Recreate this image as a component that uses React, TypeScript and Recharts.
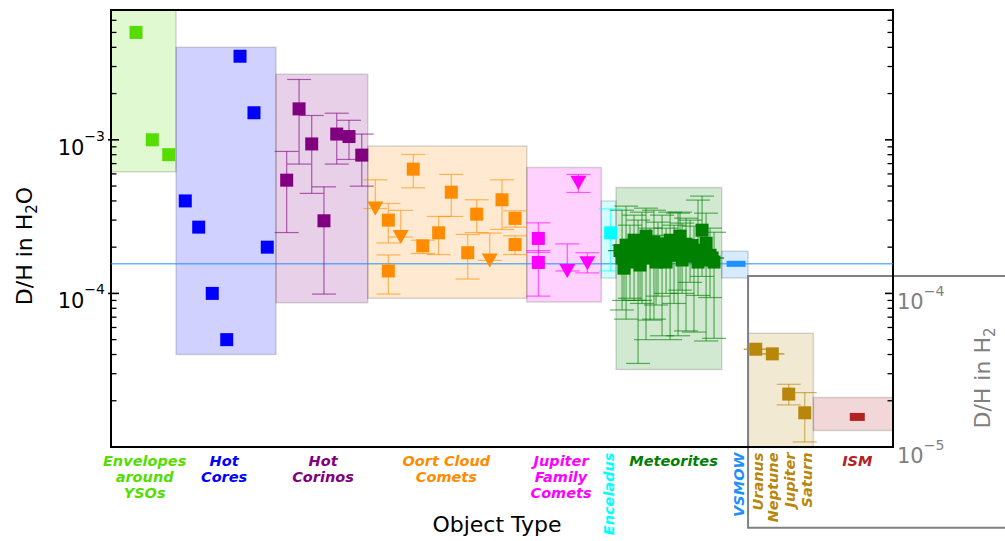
import React from "react";
import {
  ComposedChart,
  Scatter,
  XAxis,
  YAxis,
  ErrorBar,
  ReferenceArea,
  ReferenceLine,
} from "recharts";

const FONT = "DejaVu Sans, sans-serif";
const Y_DOMAIN: [number, number] = [1e-5, 7e-3];
const X_DOMAIN: [number, number] = [0, 60];

// rows: [x position, D/H, lower bound, upper bound]
type Row = [number, number, number?, number?];

const envelopes: Row[] = [
  [1.92, 5.0e-3],
  [3.17, 1.0e-3],
  [4.43, 8.0e-4],
];

const hotCores: Row[] = [
  [5.7, 4.0e-4],
  [6.73, 2.7e-4],
  [7.77, 1.0e-4],
  [8.88, 5.0e-5],
  [9.9, 3.5e-3],
  [10.97, 1.5e-3],
  [11.99, 2.0e-4],
];

const hotCorinos: Row[] = [
  [13.48, 5.46e-4, 2.49e-4, 8.4e-4],
  [14.43, 1.59e-3, 6.95e-4, 2.47e-3],
  [15.4, 9.4e-4, 4.48e-4, 1.44e-3],
  [16.34, 2.97e-4, 9.9e-5, 4.94e-4],
  [17.32, 1.09e-3, 6.95e-4, 1.49e-3],
  [18.26, 1.05e-3, 7.45e-4, 1.34e-3],
  [19.24, 7.95e-4, 4.99e-4, 1.09e-3],
];

const oortComets: Row[] = [
  [21.28, 3.0e-4, 2.13e-4, 3.85e-4],
  [21.28, 1.4e-4, 9.9e-5, 1.78e-4],
  [23.19, 6.44e-4, 4.87e-4, 8.03e-4],
  [23.92, 2.04e-4, 1.82e-4, 2.22e-4],
  [25.14, 2.48e-4, 1.79e-4, 3.17e-4],
  [26.11, 4.56e-4, 3.17e-4, 5.95e-4],
  [27.37, 1.84e-4, 1.24e-4, 2.42e-4],
  [28.06, 3.28e-4, 2.49e-4, 4.07e-4],
  [30.0, 4.07e-4, 2.61e-4, 5.49e-4],
  [31.0, 3.08e-4, 2.7e-4, 3.45e-4],
  [31.0, 2.08e-4, 1.79e-4, 2.37e-4],
];

// upper limits, drawn as down triangles
const oortLimits: Row[] = [
  [20.28, 3.57e-4, 3.57e-4, 5.49e-4],
  [22.23, 2.33e-4, 2.33e-4, 3.47e-4],
  [29.06, 1.64e-4, 1.64e-4, 2.47e-4],
];

const jfcComets: Row[] = [
  [32.79, 2.28e-4, 1.85e-4, 2.88e-4],
  [32.79, 1.59e-4, 9.6e-5, 1.9e-4],
];

const jfcLimits: Row[] = [
  [35.01, 1.4e-4, 1.4e-4, 2.1e-4],
  [35.86, 5.25e-4, 4.54e-4, 5.95e-4],
  [36.55, 1.57e-4, 1.36e-4, 1.84e-4],
];

const enceladus: Row[] = [[38.34, 2.48e-4, 1.4e-4, 3.55e-4]];

const meteorites: Row[] = [
  [39.05, 1.9e-4],
  [39.21, 1.7e-4, 7.8e-5, 3.48e-4],
  [39.36, 1.46e-4, 9.0e-5, 2.06e-4],
  [39.52, 2.06e-4, 6.8e-5, 3.7e-4],
  [39.67, 1.85e-4],
  [39.82, 1.6e-4, 9.3e-5, 2.78e-4],
  [39.97, 1.95e-4],
  [40.13, 2.22e-4, 9.0e-5, 3.23e-4],
  [40.28, 2.0e-4],
  [40.44, 1.77e-4, 3.5e-5, 3.0e-4],
  [40.59, 1.53e-4, 9.0e-5, 2.22e-4],
  [40.74, 1.97e-4, 8.6e-5, 3.38e-4],
  [40.9, 1.8e-4],
  [41.05, 2.36e-4, 5.0e-5, 3.59e-4],
  [41.2, 2.05e-4],
  [41.36, 1.7e-4, 6.7e-5, 2.66e-4],
  [41.5, 1.9e-4],
  [41.66, 2.16e-4, 6.8e-5, 3.48e-4],
  [41.82, 1.6e-4, 8.4e-5, 2.39e-4],
  [41.97, 1.86e-4, 9.6e-5, 2.91e-4],
  [42.12, 1.75e-4],
  [42.28, 2.03e-4, 5.3e-5, 3.23e-4],
  [42.44, 2.1e-4],
  [42.59, 1.6e-4, 1.0e-4, 2.66e-4],
  [42.75, 1.85e-4],
  [42.9, 2.22e-4, 5.0e-5, 3.38e-4],
  [43.05, 2.0e-4],
  [43.2, 1.77e-4, 8.6e-5, 2.78e-4],
  [43.36, 1.8e-4],
  [43.51, 1.97e-4, 5.3e-5, 3.33e-4],
  [43.66, 2.36e-4, 1.05e-4, 3.38e-4],
  [43.82, 1.65e-4, 1.0e-4, 2.87e-4],
  [43.97, 1.85e-4],
  [44.12, 2.09e-4, 5.7e-5, 3.09e-4],
  [44.27, 1.95e-4],
  [44.43, 1.75e-4, 1.18e-4, 3.0e-4],
  [44.58, 2.05e-4],
  [44.73, 1.91e-4, 5.6e-5, 2.74e-4],
  [44.88, 1.75e-4],
  [45.04, 1.6e-4, 9.7e-5, 4.05e-4],
  [45.2, 1.85e-4],
  [45.35, 2.58e-4, 1.29e-4, 4.3e-4],
  [45.5, 1.9e-4],
  [45.66, 2.12e-4, 4.9e-5, 3.33e-4],
  [45.81, 1.65e-4],
  [45.96, 1.77e-4, 9.4e-5, 2.66e-4],
  [46.12, 1.7e-4],
  [46.27, 1.6e-4, 5.1e-5, 2.5e-4],
];

const vsmow: Row[] = [[47.96, 1.5576e-4]];
const VSMOW_DH = 1.5576e-4;

const giantPlanets: Row[] = [
  [49.47, 4.33e-5],
  [50.74, 4.04e-5],
  [52.0, 2.21e-5, 1.88e-5, 2.56e-5],
  [53.23, 1.67e-5, 1.08e-5, 2.26e-5],
];

const ism: Row[] = [[57.26, 1.57e-5]];

// range boxes: [group, x from, x to, D/H low, D/H high]
const groupBoxes: [string, number, number, number, number][] = [
  ["envelopes", 0, 4.99, 6.2e-4, 7e-3],
  ["hotCores", 4.99, 12.66, 4.0e-5, 4.0e-3],
  ["hotCorinos", 12.66, 19.7, 8.7e-5, 2.67e-3],
  ["oort", 19.7, 31.9, 9.3e-5, 9.1e-4],
  ["jfc", 31.9, 37.62, 8.8e-5, 6.6e-4],
  ["enceladus", 37.62, 38.75, 1.26e-4, 4.0e-4],
  ["meteorites", 38.75, 46.86, 3.2e-5, 4.9e-4],
  ["vsmow", 46.86, 48.88, 1.26e-4, 1.88e-4],
  ["giants", 48.88, 53.89, 1.0e-5, 5.5e-5],
  ["ism", 53.89, 60, 1.28e-5, 2.1e-5],
];

const categoryTicks = [2.58, 8.68, 16.27, 25.73, 34.53, 38.16, 43.16, 48.11, 49.62, 50.77, 52.07, 53.34, 57.26];
const categoryLabels = [
  ["Envelopes", "around", "YSOs"],
  ["Hot", "Cores"],
  ["Hot", "Corinos"],
  ["Oort Cloud", "Comets"],
  ["Jupiter", "Family", "Comets"],
  ["Enceladus"],
  ["Meteorites"],
  ["VSMOW"],
  ["Uranus"],
  ["Neptune"],
  ["Jupiter"],
  ["Saturn"],
  ["ISM"],
];
const categoryGroups = [
  "envelopes", "hotCores", "hotCorinos", "oort", "jfc", "enceladus",
  "meteorites", "vsmow", "giants", "giants", "giants", "giants", "ism",
];
// indexes of the labels written vertically
const rotatedIdx = [5, 7, 8, 9, 10, 11];

const majorTicks = [1e-4, 1e-3];
const minorTicks = [
  2e-5, 3e-5, 4e-5, 5e-5, 6e-5, 7e-5, 8e-5, 9e-5,
  2e-4, 3e-4, 4e-4, 5e-4, 6e-4, 7e-4, 8e-4, 9e-4,
  2e-3, 3e-3, 4e-3, 5e-3, 6e-3,
];
const leftLabelled = [1e-4, 1e-3];
const rightLabelled = [1e-5, 1e-4];

const COLORS: Record<string, string> = {
  envelopes: "#55dd00",
  hotCores: "#0000ff",
  hotCorinos: "#800080",
  oort: "#ff8c00",
  jfc: "#ff00ff",
  enceladus: "#00ffff",
  meteorites: "#008000",
  vsmow: "#1e90ff",
  giants: "#b8860b",
  ism: "#b22222",
};

const toPoints = (rows: Row[]) =>
  rows.map(([x, y, lo, hi]) => ({ x, y, err: [y - (lo ?? y), (hi ?? y) - y] }));

const square = (size: number, color: string) => (p: any) =>
  <rect x={p.cx - size / 2} y={p.cy - size / 2} width={size} height={size} fill={color} />;

const bar = (w: number, h: number, color: string) => (p: any) =>
  <rect x={p.cx - w / 2} y={p.cy - h / 2} width={w} height={h} fill={color} />;

const triangle = (color: string) => (p: any) => (
  <polygon
    points={`${p.cx - 8},${p.cy - 7} ${p.cx + 8},${p.cy - 7} ${p.cx},${p.cy + 7}`}
    fill={color}
  />
);

const expLabel = (v: number) => String(Math.round(Math.log10(v))).replace("-", "\u2212");

const LeftTick = (props: any) => {
  const { x, y, payload } = props;
  const v = payload.value;
  const major = majorTicks.includes(v);
  return (
    <g>
      <line x1={major ? x - 3 : x} x2={x + (major ? 8 : 5.5)} y1={y} y2={y} stroke="#000" strokeWidth={major ? 1.6 : 1.3} />
      {leftLabelled.includes(v) && (
        <text x={x - 6} y={y + 15} textAnchor="end" fontFamily={FONT} fontSize={21} fill="#000">
          10<tspan dy={-14} fontSize={14}>{expLabel(v)}</tspan>
        </text>
      )}
    </g>
  );
};

const RightTick = (props: any) => {
  const { x, y, payload } = props;
  const v = payload.value;
  const major = majorTicks.includes(v);
  const onAxis = v > Y_DOMAIN[0];
  return (
    <g>
      {onAxis && (
        <line x1={x - (major ? 8 : 5.5)} x2={x} y1={y} y2={y} stroke="#000" strokeWidth={major ? 1.6 : 1.3} />
      )}
      {rightLabelled.includes(v) && (
        <text x={x + 4} y={y + 16} textAnchor="start" fontFamily={FONT} fontSize={21} fill="#808080">
          10<tspan dy={-13} fontSize={14}>{expLabel(v)}</tspan>
        </text>
      )}
    </g>
  );
};

const CategoryTick = (props: any) => {
  const { x, y, payload } = props;
  const i = categoryTicks.indexOf(payload.value);
  if (i < 0) return null;
  const lines = categoryLabels[i];
  const color = COLORS[categoryGroups[i]];
  const common = {
    fontFamily: FONT,
    fontSize: 14.5,
    fontWeight: 700,
    fontStyle: "italic" as const,
    fill: color,
  };
  if (rotatedIdx.includes(i)) {
    const bx = x + 5.5;
    const by = y + 5.5;
    return (
      <text {...common} x={bx} y={by} textAnchor="end" transform={`rotate(-90, ${bx}, ${by})`}>
        {lines[0]}
      </text>
    );
  }
  return (
    <g>
      {lines.map((t, k) => (
        <text key={k} {...common} x={x} y={y + 19 + k * 16} textAnchor="middle">
          {t}
        </text>
      ))}
    </g>
  );
};

const series: { rows: Row[]; group: string; shape: "square" | "tri" | "bar"; w?: number; h?: number }[] = [
  { rows: envelopes, group: "envelopes", shape: "square" },
  { rows: hotCores, group: "hotCores", shape: "square" },
  { rows: hotCorinos, group: "hotCorinos", shape: "square" },
  { rows: oortComets, group: "oort", shape: "square" },
  { rows: oortLimits, group: "oort", shape: "tri" },
  { rows: jfcComets, group: "jfc", shape: "square" },
  { rows: jfcLimits, group: "jfc", shape: "tri" },
  { rows: enceladus, group: "enceladus", shape: "square" },
  { rows: meteorites, group: "meteorites", shape: "square" },
  { rows: vsmow, group: "vsmow", shape: "bar", w: 19, h: 6 },
  { rows: giantPlanets, group: "giants", shape: "square" },
  { rows: ism, group: "ism", shape: "bar", w: 15, h: 8 },
];

export default function App() {
  return (
    <div style={{ position: "absolute", left: 0, top: 0, width: 1005, height: 541, background: "#fff" }}>
      <ComposedChart width={1005} height={541} margin={{ top: 10, right: 0, bottom: 0, left: 0 }}>
        <XAxis
          dataKey="x"
          type="number"
          domain={X_DOMAIN}
          allowDataOverflow
          ticks={categoryTicks}
          interval={0}
          tick={(p: any) => <CategoryTick {...p} />}
          tickLine={false}
          axisLine={false}
          tickSize={0}
          tickMargin={0}
          height={94}
        />
        <YAxis
          yAxisId="main"
          dataKey="y"
          orientation="left"
          scale="log"
          type="number"
          domain={Y_DOMAIN}
          allowDataOverflow
          ticks={[...majorTicks, ...minorTicks]}
          interval={0}
          tick={(p: any) => <LeftTick {...p} />}
          tickLine={false}
          axisLine={false}
          tickSize={0}
          tickMargin={0}
          width={111}
        />
        <YAxis
          yAxisId="h2"
          orientation="right"
          scale="log"
          type="number"
          domain={Y_DOMAIN}
          allowDataOverflow
          ticks={[Y_DOMAIN[0], ...majorTicks, ...minorTicks]}
          interval={0}
          tick={(p: any) => <RightTick {...p} />}
          tickLine={false}
          axisLine={false}
          tickSize={0}
          tickMargin={0}
          width={112}
        />

        {groupBoxes.map(([g, x0, x1, lo, hi]) => (
          <ReferenceArea
            key={g}
            yAxisId="main"
            x1={x0}
            x2={x1}
            y1={lo}
            y2={hi}
            fill={COLORS[g]}
            fillOpacity={0.18}
            stroke="#000"
            strokeOpacity={0.15}
            strokeWidth={1.5}
            ifOverflow="hidden"
          />
        ))}

        <ReferenceLine yAxisId="main" y={VSMOW_DH} stroke={COLORS.vsmow} strokeWidth={1} />

        {series.map((s, i) => {
          const color = COLORS[s.group];
          const shape =
            s.shape === "tri" ? triangle(color) : s.shape === "bar" ? bar(s.w!, s.h!, color) : square(13, color);
          const hasErr = s.rows.some((r) => r.length > 2);
          return (
            <Scatter
              key={i}
              yAxisId="main"
              data={toPoints(s.rows)}
              fill={color}
              shape={shape}
              isAnimationActive={false}
            >
              {hasErr && (
                <ErrorBar
                  dataKey="err"
                  direction="y"
                  width={12}
                  stroke={color}
                  strokeOpacity={0.6}
                  strokeWidth={1.2}
                  isAnimationActive={false}
                />
              )}
            </Scatter>
          );
        })}

        {/* inset frame for the H2 axis */}
        <ReferenceArea
          yAxisId="main"
          x1={48.88}
          x2={70}
          y1={2.98e-6}
          y2={1.3e-4}
          fill="none"
          stroke="#808080"
          strokeWidth={2}
          ifOverflow="visible"
        />
        {/* main axes frame */}
        <ReferenceArea
          yAxisId="main"
          x1={X_DOMAIN[0]}
          x2={X_DOMAIN[1]}
          y1={Y_DOMAIN[0]}
          y2={Y_DOMAIN[1]}
          fill="none"
          stroke="#000"
          strokeWidth={2}
          ifOverflow="visible"
        />
      </ComposedChart>

      <svg width={1005} height={541} style={{ position: "absolute", left: 0, top: 0, pointerEvents: "none" }}>
        <text
          x={32}
          y={246}
          transform="rotate(-90, 32, 246)"
          textAnchor="middle"
          fontFamily={FONT}
          fontSize={22}
          fill="#000"
        >
          D/H in H<tspan dy={5} fontSize={15}>2</tspan><tspan dy={-5}>O</tspan>
        </text>
        <text x={497} y={532} textAnchor="middle" fontFamily={FONT} fontSize={22} fill="#000">
          Object Type
        </text>
        <text
          x={990}
          y={378}
          transform="rotate(-90, 990, 378)"
          textAnchor="middle"
          fontFamily={FONT}
          fontSize={22}
          fill="#808080"
        >
          D/H in H<tspan dy={5} fontSize={15}>2</tspan>
        </text>
      </svg>
    </div>
  );
}
